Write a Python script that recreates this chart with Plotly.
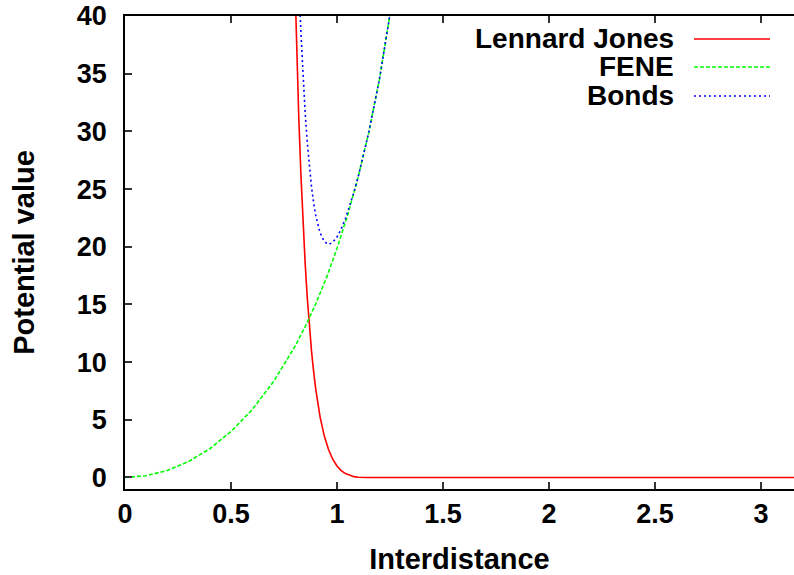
import plotly.graph_objects as go

# values
lj_r = [0.80, 0.81, 0.82, 0.83, 0.84, 0.85, 0.86, 0.87, 0.88, 0.89, 0.90, 0.92, 0.94,
        0.96, 0.98, 1.00, 1.02, 1.04, 1.06, 1.08, 1.10, 1.12, 1.14, 3.16]
lj_v = [43.95, 36.98, 31.12, 26.19, 22.03, 18.52, 15.55, 13.05, 10.93, 9.15, 7.64, 5.28, 3.61,
        2.42, 1.58, 1.00, 0.60, 0.34, 0.17, 0.07, 0.02, 0.0, 0.0, 0.0]

fene_r = [0.0, 0.1, 0.2, 0.3, 0.4, 0.5, 0.6, 0.7, 0.8, 0.85, 0.9, 0.95, 1.0, 1.05,
          1.1, 1.15, 1.2, 1.25, 1.26]
fene_v = [0.0, 0.15, 0.61, 1.38, 2.49, 3.98, 5.88, 8.29, 11.30, 13.07, 15.06, 17.30, 19.84, 22.73,
          26.04, 29.91, 34.48, 40.02, 41.27]

bond_r = [0.80, 0.81, 0.82, 0.83, 0.84, 0.85, 0.86, 0.87, 0.88, 0.89, 0.90, 0.92, 0.94, 0.96,
          0.98, 1.00, 1.02, 1.04, 1.06, 1.08, 1.10, 1.12, 1.15, 1.20, 1.25, 1.26]
bond_v = [55.25, 48.61, 43.10, 38.53, 34.73, 31.59, 29.00, 26.89, 25.17, 23.80, 22.70, 21.21, 20.44, 20.20,
          20.37, 20.84, 21.55, 22.45, 23.52, 24.73, 26.06, 27.52, 29.91, 34.48, 40.02, 41.27]

names = ["Lennard Jones", "FENE", "Bonds"]
colors = ["#ff0000", "#00ff00", "#0000ff"]
dashes = ["solid", "4px,2px", "2px,3px"]

x_ticks = [0, 0.5, 1, 1.5, 2, 2.5, 3]
y_ticks = [0, 5, 10, 15, 20, 25, 30, 35, 40]

FONT = "Liberation Sans"

fig = go.Figure()
for r, v, name, col, dash in zip([lj_r, fene_r, bond_r], [lj_v, fene_v, bond_v], names, colors, dashes):
    fig.add_trace(go.Scatter(x=r, y=v, mode="lines", name=name,
                             line=dict(color=col, width=1.6, dash=dash),
                             showlegend=False))

# gnuplot-like key: text right aligned, sample line on its right
key_y = [0.9514, 0.8922, 0.8309]
for name, col, dash, ky in zip(names, colors, dashes, key_y):
    fig.add_annotation(x=0.8236, y=ky, xref="paper", yref="paper", text="<b>%s</b>" % name,
                       showarrow=False, xanchor="right", yanchor="middle",
                       font=dict(family=FONT, size=28, color="black"))
    fig.add_shape(type="line", xref="paper", yref="paper", x0=0.8505, x1=0.9641, y0=ky, y1=ky,
                  line=dict(color=col, width=1.6, dash=dash))

fig.update_layout(
    width=794, height=575,
    margin=dict(l=125, r=0, t=16, b=86),
    plot_bgcolor="white", paper_bgcolor="white",
    font=dict(family=FONT, size=27, color="black"),
)
fig.update_xaxes(range=[0, 3.156], tickvals=x_ticks,
                 ticktext=["<b>%g</b>" % t for t in x_ticks],
                 ticks="inside", ticklen=7, tickcolor="#333", tickwidth=1.5,
                 showline=True, linecolor="black", linewidth=1.5, mirror="ticks",
                 showgrid=False, zeroline=False, ticklabelstandoff=0, automargin=False,
                 ticklabeloverflow="allow",
                 title=dict(text="<b>Interdistance</b>", standoff=28, font=dict(size=29)))
fig.update_yaxes(range=[-1, 40], tickvals=y_ticks,
                 ticktext=["<b>%d</b>" % t for t in y_ticks],
                 ticks="inside", ticklen=7, tickcolor="#333", tickwidth=1.5,
                 showline=True, linecolor="black", linewidth=1.5,
                 showgrid=False, zeroline=False, ticklabelstandoff=11, automargin=False,
                 ticklabeloverflow="allow",
                 title=dict(text="<b>Potential value</b>", standoff=34, font=dict(size=29)))

# drop the default 8px page margin so the figure sits flush in the window
fig.write_html("out.html", config={"displayModeBar": False},
               post_script="document.body.style.margin = '0px';")
